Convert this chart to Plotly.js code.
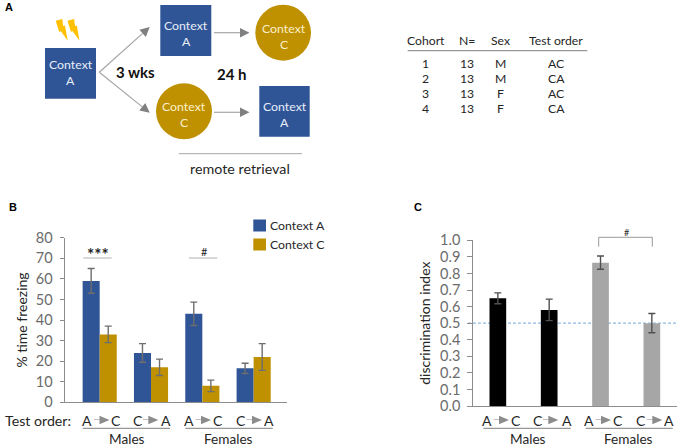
<!DOCTYPE html>
<html>
<head>
<meta charset="utf-8">
<script src="https://cdn.plot.ly/plotly-3.0.1.min.js"></script>
<style>html,body{margin:0;padding:0;background:#fff}</style>
</head>
<body>
<div id="chart" style="width:683px;height:447px"></div>
<script>
// Panel B data
const groupsB = [0, 1, 2, 3];
const contextA = [59, 24, 43, 16.5];
const contextAErr = [6, 4.5, 5.7, 2.5];
const contextC = [33, 17, 8, 22];
const contextCErr = [4, 4, 2.8, 6.5];
// Panel C data
const groupsC = [0, 1, 2, 3];
const discIndex = [0.65, 0.58, 0.865, 0.5];
const discErr = [0.033, 0.065, 0.04, 0.058];
const discColors = ['#000000', '#000000', '#A6A6A6', '#A6A6A6'];
// Table
const tableCols = ['Cohort', 'N=', 'Sex', 'Test order'];
const cohort = ['1', '2', '3', '4'];
const nPerCohort = ['13', '13', '13', '13'];
const sex = ['M', 'M', 'F', 'F'];
const testOrder = ['AC', 'CA', 'AC', 'CA'];

const W = 683, H = 447;
const BLUE = '#2F5597', GOLD = '#BF9000', GREY = '#A6A6A6', TXT = '#262626';
const FONT = 'Lato, "Open Sans", sans-serif';
const px = x => x / W, py = y => 1 - y / H;
const shapes = [], annotations = [];

function pathOf(pts) {
  return 'M' + pts.map(p => px(p[0]) + ',' + py(p[1])).join('L') + 'Z';
}
function rect(x0, y0, x1, y1, c) {
  shapes.push({type:'rect', xref:'paper', yref:'paper', x0:px(x0), x1:px(x1), y0:py(y0), y1:py(y1), fillcolor:c, line:{width:0}});
}
function circle(x0, y0, x1, y1, c) {
  shapes.push({type:'circle', xref:'paper', yref:'paper', x0:px(x0), x1:px(x1), y0:py(y0), y1:py(y1), fillcolor:c, line:{width:0}});
}
function line(x0, y0, x1, y1, c, w, dash, layer) {
  shapes.push({type:'line', xref:'paper', yref:'paper', x0:px(x0), x1:px(x1), y0:py(y0), y1:py(y1), layer:layer||'above', line:{color:c, width:w, dash:dash||'solid'}});
}
function poly(pts, c) {
  shapes.push({type:'path', xref:'paper', yref:'paper', path:pathOf(pts), fillcolor:c, line:{width:0}});
}
function text(x, y, t, size, color, bold, family) {
  annotations.push({xref:'paper', yref:'paper', x:px(x), y:py(y), text: bold ? '<b>' + t + '</b>' : t,
    showarrow:false, xanchor:'center', yanchor:'middle', borderpad:0,
    font:{size:size, color:color, family:family||FONT}});
}
function arrow(x0, y0, x1, y1) {
  const a = Math.atan2(y1 - y0, x1 - x0), L = 9.5, H2 = 4.8;
  const bx = x1 - L * Math.cos(a), by = y1 - L * Math.sin(a);
  line(x0, y0, bx, by, GREY, 1.2);
  poly([[x1, y1], [bx - H2 * Math.sin(a), by + H2 * Math.cos(a)], [bx + H2 * Math.sin(a), by - H2 * Math.cos(a)]], '#808080');
}

// Panel letters
text(9, 7, 'A', 11, '#000', true, 'Liberation Sans');
text(13, 207, 'B', 11, '#000', true, 'Liberation Sans');
text(418, 207, 'C', 11, '#000', true, 'Liberation Sans');

// Diagram
function ctx(cx, cy, letter, c) {
  text(cx, cy - 8, 'Context', 12.3, c);
  text(cx, cy + 8, letter, 12.3, c);
}
rect(45, 48, 96, 98.7, BLUE); ctx(70.5, 73, 'A', '#E8EEF8');
rect(160.3, 5, 211.3, 56, BLUE); ctx(186, 34, 'A', '#E8EEF8');
circle(255.3, 4.7, 311, 60.7, GOLD); ctx(283.5, 36, 'C', '#FBF0C8');
circle(156, 83.3, 212, 139.3, GOLD); ctx(184, 114.5, 'C', '#FBF0C8');
rect(259.3, 86, 309.7, 136.7, BLUE); ctx(284.5, 114.5, 'A', '#E8EEF8');
[0, 11.8].forEach(d => poly([[55.7 + d, 20.7], [62.3 + d, 19], [63.2 + d, 26], [65 + d, 25.6], [67.7 + d, 40.7], [60.7 + d, 31], [59.2 + d, 32], ], '#FFC000'));
arrow(99.3, 72.3, 149.7, 27);
arrow(99.3, 72.3, 149.7, 112.8);
arrow(214, 32.7, 249.5, 32.7);
arrow(214, 112.3, 249.5, 112.3);
text(135.7, 72, '3 wks', 15, '#111', true);
text(232, 74, '24 h', 15, '#111', true);
line(178.7, 153.7, 302, 153.7, '#A6A6A6', 1);
text(240, 168, 'remote retrieval', 14.3, TXT);

// Table
const colX = [425.7, 466.7, 500, 556];
const rowY = [63.3, 78.5, 93.3, 108.3];
tableCols.forEach((t, i) => text(colX[i], 40.7, t, 12.2, TXT));
line(407.7, 50.7, 587.3, 50.7, '#7F7F7F', 1);
[cohort, nPerCohort, sex, testOrder].forEach((col, i) => col.forEach((t, r) => text(colX[i], rowY[r], t, 12.2, TXT)));

// Test-order labels under the bars
const LY = 420;
function order(xa, a, xb, b, tri) {
  text(xa, LY, a, 14, TXT);
  text(xb, LY, b, 14, TXT);
  line(tri - 5.5, LY - 0.5, tri, LY - 0.5, '#BFBFBF', 1);
  poly([[tri, LY - 4.2], [tri + 10, LY], [tri, LY + 4.2]], '#8C8C8C');
}
order(87, 'A', 115.7, 'C', 99.5);
order(138, 'C', 166.3, 'A', 148.3);
order(189, 'A', 218, 'C', 201);
order(240.5, 'C', 269, 'A', 252);
order(487, 'A', 516.3, 'C', 499);
order(538.3, 'C', 566.7, 'A', 548.3);
order(589.3, 'A', 618.3, 'C', 601);
order(640.7, 'C', 669, 'A', 652.3);
text(38, LY, 'Test order:', 14.2, TXT);
line(82.7, 428.3, 170, 428.3, '#7F7F7F', 1);
line(185.3, 428.3, 272.7, 428.3, '#7F7F7F', 1);
line(483.3, 428.3, 570.7, 428.3, '#7F7F7F', 1);
line(585.7, 428.3, 672.7, 428.3, '#7F7F7F', 1);
text(127, 438.5, 'Males', 13.6, TXT);
text(228, 438.5, 'Females', 13.6, TXT);
text(528, 438.5, 'Males', 13.6, TXT);
text(628.3, 438.5, 'Females', 13.6, TXT);

// Legend
rect(253.3, 219.5, 266, 231.5, BLUE);
rect(253.3, 238.5, 266, 250.5, GOLD);
text(297.5, 225.5, 'Context A', 12.3, TXT);
text(297.5, 244.5, 'Context C', 12.3, TXT);

// Significance marks B
line(83.3, 258, 111.7, 258, '#BFBFBF', 1.2);
text(98, 254.5, '<b>***</b>', 17, TXT);
line(189, 258, 217.3, 258, '#BFBFBF', 1.2);
text(204.3, 252, '#', 11, TXT);
// Bracket C
line(598.7, 237.3, 652.3, 237.3, '#808080', 0.8);
line(598.7, 237.3, 598.7, 246.7, '#808080', 0.8);
line(652.3, 237.3, 652.3, 246.7, '#808080', 0.8);
text(626.3, 232.3, '#', 9, TXT);
// Reference line C
line(468, 323.2, 677, 323.2, '#8DB9E2', 1.2, '3px,2px', 'below');

const errStyle = c => ({color:c, thickness:1.4, width:3.5});
const traces = [
  {type:'bar', name:'Context A', x:groupsB, y:contextA, marker:{color:BLUE}, xaxis:'x', yaxis:'y',
   error_y:Object.assign({type:'data', array:contextAErr, visible:true}, errStyle('#6E6E6E'))},
  {type:'bar', name:'Context C', x:groupsB, y:contextC, marker:{color:GOLD}, xaxis:'x', yaxis:'y',
   error_y:Object.assign({type:'data', array:contextCErr, visible:true}, errStyle('#6E6E6E'))},
  {type:'bar', name:'discrimination index', x:groupsC, y:discIndex, marker:{color:discColors}, xaxis:'x2', yaxis:'y2', width:0.325, showlegend:false,
   error_y:Object.assign({type:'data', array:discErr, visible:true}, errStyle('#505050'))}
];

const tickFont = {family:FONT, size:14.5, color:'#6B6B6B'};
const layout = {
  width:W, height:H, margin:{l:0, r:0, t:0, b:0}, paper_bgcolor:'#fff', plot_bgcolor:'#fff',
  barmode:'group', bargap:0.335, bargroupgap:0, showlegend:false, hovermode:false,
  font:{family:FONT},
  xaxis:{domain:[px(65), px(287)], range:[-0.676, 3.65], showticklabels:false, ticks:'', showgrid:false, zeroline:false,
         showline:true, linecolor:'#8C8C8C', linewidth:1, anchor:'y'},
  yaxis:{domain:[py(402.3), py(237.7)], range:[0, 80], dtick:10, ticks:'outside', ticklen:4.5, tickcolor:'#8C8C8C', tickwidth:1,
         ticklabelstandoff:4,
         showgrid:false, zeroline:false, showline:true, linecolor:'#8C8C8C', linewidth:1, tickfont:tickFont, anchor:'x',
         title:{text:'% time freezing', font:{family:FONT, size:14, color:TXT}, standoff:4}},
  xaxis2:{domain:[px(472.7), px(677)], range:[-0.49, 3.49], showticklabels:false, ticks:'', showgrid:false, zeroline:false,
         showline:true, linecolor:'#8C8C8C', linewidth:1, anchor:'y2'},
  yaxis2:{domain:[py(406), py(240.3)], range:[0, 1], dtick:0.1, tickformat:'.1f', ticks:'outside', ticklen:4.5, tickcolor:'#8C8C8C', tickwidth:1,
         ticklabelstandoff:4,
         showgrid:false, zeroline:false, showline:true, linecolor:'#8C8C8C', linewidth:1, tickfont:tickFont, anchor:'x2',
         title:{text:'discrimination index', font:{family:FONT, size:14, color:TXT}, standoff:6}},
  shapes:shapes, annotations:annotations
};
Plotly.newPlot('chart', traces, layout, {displayModeBar:false, staticPlot:true});
</script>
</body>
</html>
